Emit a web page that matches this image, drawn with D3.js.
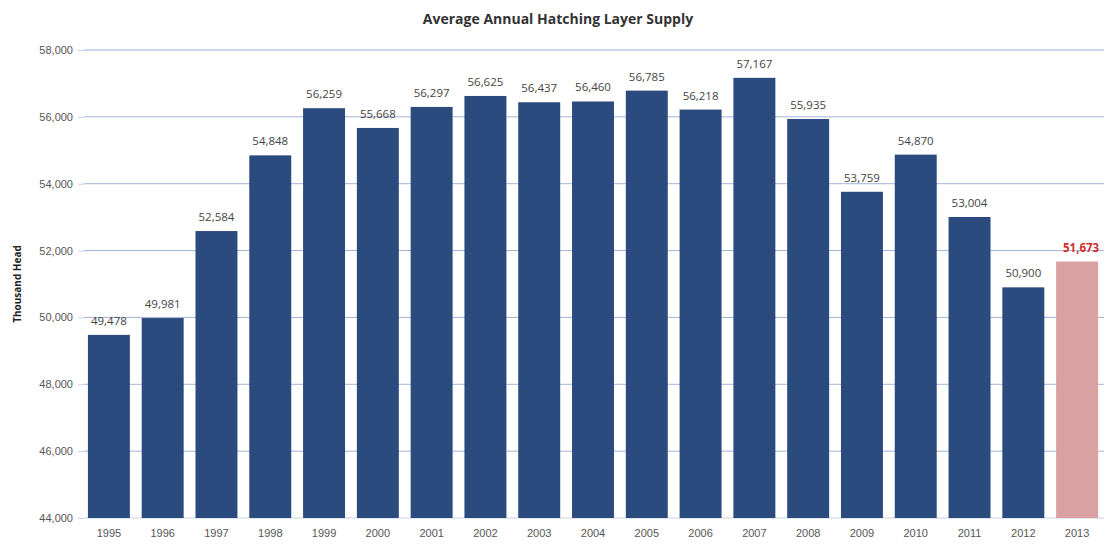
<!DOCTYPE html>
<html>
<head>
<meta charset="utf-8">
<script src="https://cdn.jsdelivr.net/npm/d3@7"></script>
<style>
  html, body { margin: 0; padding: 0; background: #ffffff; }
  svg { display: block; font-family: "Open Sans", "DejaVu Sans", sans-serif; }
</style>
</head>
<body>
<svg id="chart" width="1104" height="548"></svg>
<script>
// Average annual hatching layer supply, thousand head
const years = ["1995","1996","1997","1998","1999","2000","2001","2002","2003","2004",
               "2005","2006","2007","2008","2009","2010","2011","2012","2013"];
const supply = [49478, 49981, 52584, 54848, 56259, 55668, 56297, 56625, 56437, 56460,
                56785, 56218, 57167, 55935, 53759, 54870, 53004, 50900, 51673];
const yTicks = [44000, 46000, 48000, 50000, 52000, 54000, 56000, 58000];
const highlightYear = "2013";

const svg = d3.select("#chart");
const margin = { top: 50, right: 0, bottom: 30, left: 82 };
const width = 1104, height = 548;

const x = d3.scaleBand()
  .domain(years)
  .range([margin.left, width - margin.right])
  .paddingInner(0.22)
  .paddingOuter(0.11);

const y = d3.scaleLinear()
  .domain([44000, 58000])
  .range([height - margin.bottom, margin.top]);

const fmt = d3.format(",");

// Gridlines
svg.append("g")
  .selectAll("line")
  .data(yTicks.filter(t => t > 44000))
  .join("line")
  .attr("x1", margin.left + 2)
  .attr("x2", width)
  .attr("y1", d => y(d))
  .attr("y2", d => y(d))
  .attr("stroke", "#a2b3d9")
  .attr("stroke-width", 1);

// Y axis
const yAxis = svg.append("g")
  .attr("transform", `translate(${margin.left + 2},0)`)
  .call(d3.axisLeft(y).tickValues(yTicks).tickFormat(fmt).tickSize(6).tickPadding(5));
yAxis.select(".domain").remove();
yAxis.selectAll(".tick line").attr("stroke", "#c8d0e0");
yAxis.selectAll(".tick text")
  .attr("fill", "#555")
  .style("font-size", "11px");

// X baseline
svg.append("line")
  .attr("x1", margin.left + 2)
  .attr("x2", width)
  .attr("y1", y(44000))
  .attr("y2", y(44000))
  .attr("stroke", "#c8d0e0");

// X axis labels
const xAxis = svg.append("g")
  .attr("transform", `translate(0,${y(44000)})`)
  .call(d3.axisBottom(x).tickSize(0).tickPadding(11));
xAxis.select(".domain").remove();
xAxis.selectAll(".tick text")
  .attr("fill", "#555")
  .style("font-size", "11px");

// Bars
const data = years.map((yr, i) => ({ year: yr, value: supply[i] }));
svg.append("g")
  .selectAll("rect")
  .data(data)
  .join("rect")
  .attr("x", d => x(d.year))
  .attr("width", x.bandwidth())
  .attr("y", d => y(d.value))
  .attr("height", d => y(44000) - y(d.value))
  .attr("fill", d => d.year === highlightYear ? "#d9a1a2" : "#2b4a7e");

// Value labels
svg.append("g")
  .selectAll("text")
  .data(data)
  .join("text")
  .attr("x", d => x(d.year) + x.bandwidth() / 2 + (d.year === highlightYear ? 4 : 0))
  .attr("y", d => y(d.value) - 10)
  .attr("text-anchor", "middle")
  .attr("fill", d => d.year === highlightYear ? "#d0302e" : "#444")
  .style("font-size", "11.5px")
  .style("font-weight", d => d.year === highlightYear ? "bold" : "normal")
  .text(d => fmt(d.value));

// Title
svg.append("text")
  .attr("x", 558)
  .attr("y", 24)
  .attr("text-anchor", "middle")
  .attr("fill", "#333")
  .style("font-size", "14px")
  .style("font-weight", "bold")
  .text("Average Annual Hatching Layer Supply");

// Y axis title
svg.append("text")
  .attr("transform", `translate(21,${284}) rotate(-90)`)
  .attr("text-anchor", "middle")
  .attr("fill", "#222")
  .style("font-size", "10px")
  .style("font-weight", "bold")
  .text("Thousand Head");
</script>
</body>
</html>
